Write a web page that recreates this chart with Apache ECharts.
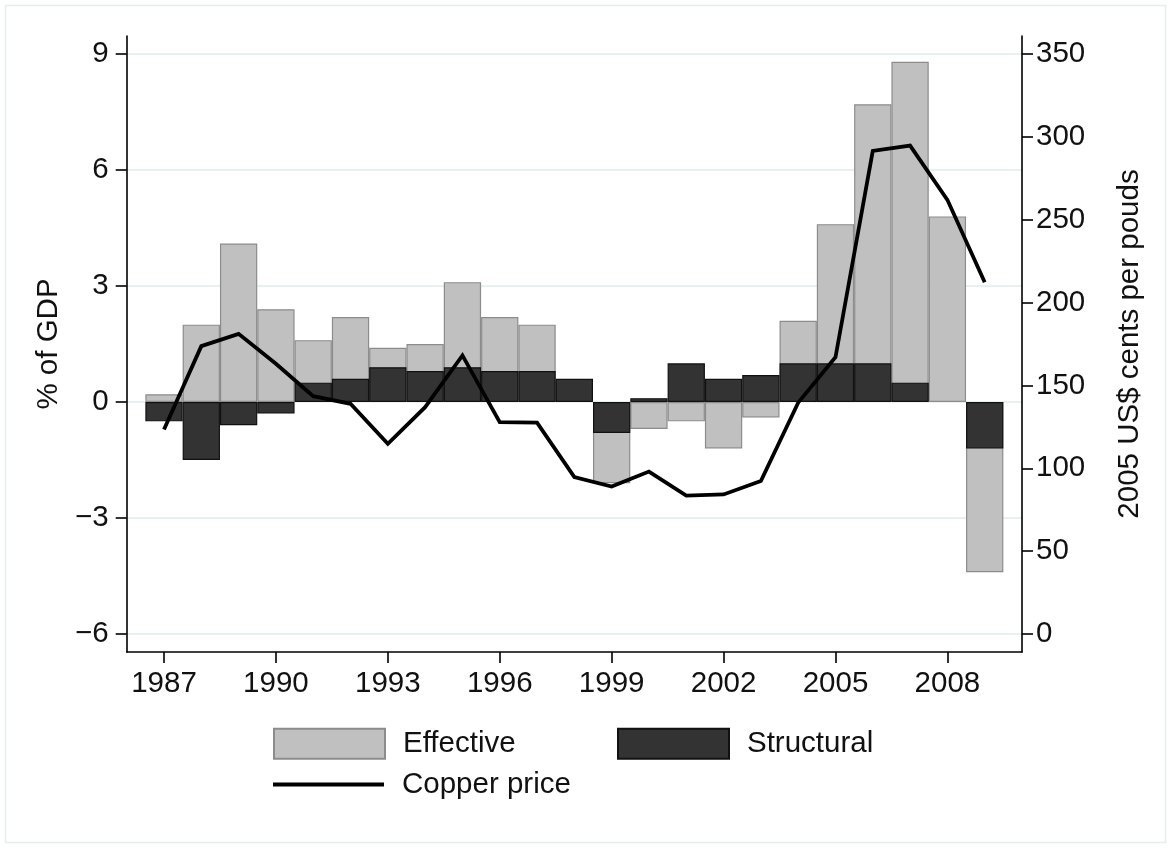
<!DOCTYPE html>
<html>
<head>
<meta charset="utf-8">
<script src="https://cdn.jsdelivr.net/npm/echarts@6/dist/echarts.min.js"></script>
<style>
html,body{margin:0;padding:0;background:#fff;}
#chart{width:1170px;height:848px;}
</style>
</head>
<body>
<div id="chart"></div>
<script>
const years = [1987,1988,1989,1990,1991,1992,1993,1994,1995,1996,1997,1998,1999,2000,2001,2002,2003,2004,2005,2006,2007,2008,2009];
const effective = [0.2,2.0,4.1,2.4,1.6,2.2,1.4,1.5,3.1,2.2,2.0,0.5,-2.1,-0.7,-0.5,-1.2,-0.4,2.1,4.6,7.7,8.8,4.8,-4.4];
const structural = [-0.5,-1.5,-0.6,-0.3,0.5,0.6,0.9,0.8,0.9,0.8,0.8,0.6,-0.8,0.1,1.0,0.6,0.7,1.0,1.0,1.0,0.5,null,-1.2];
const copper = [123.4,173.7,181.1,163.1,143.5,138.9,114.8,136.9,168.1,127.8,127.5,94.7,89.0,98.0,83.5,84.2,92.3,139.6,167.0,291.5,294.7,262.0,212.3];
const xTicks = [1987,1990,1993,1996,1999,2002,2005,2008];
const leftTicks = [-6,-3,0,3,6,9];
const rightTicks = [0,50,100,150,200,250,300,350];

const pairs = (vals) => years.map((y, i) => [y, vals[i]]);
const FONT = 'Liberation Sans, Arial, sans-serif';
const FS = 29.5;
const txt = '#111';

const chart = echarts.init(document.getElementById('chart'), null, {renderer: 'canvas'});
const option = {
  backgroundColor: '#fff',
  animation: false,
  textStyle: {fontFamily: FONT},
  graphic: [{
    type: 'rect', shape: {x: 5.5, y: 5.5, width: 1160, height: 837},
    style: {fill: 'none', stroke: '#e6eef0', lineWidth: 1.5}, z: -10, silent: true
  }],
  grid: {left: 126.7, right: 148, top: 36, bottom: 196, containLabel: false},
  xAxis: {
    type: 'value', min: 1986, max: 2010,
    axisLine: {show: true, onZero: false, lineStyle: {color: '#000', width: 1.6}},
    axisTick: {show: true, length: 11, customValues: xTicks, lineStyle: {color: '#000', width: 1.6}},
    axisLabel: {customValues: xTicks, fontSize: FS, color: txt, margin: 17, fontFamily: FONT,
      formatter: v => String(v)},
    splitLine: {show: false}
  },
  yAxis: [{
    type: 'value', min: -6.465, max: 9.465, position: 'left',
    name: '% of GDP', nameLocation: 'middle', nameGap: 58, nameRotate: 90,
    nameTextStyle: {fontSize: FS, color: txt, fontFamily: FONT},
    axisLine: {show: true, onZero: false, lineStyle: {color: '#000', width: 1.6}},
    axisTick: {show: true, length: 11, customValues: leftTicks, lineStyle: {color: '#000', width: 1.6}},
    axisLabel: {customValues: leftTicks, fontSize: FS, color: txt, margin: 18, fontFamily: FONT,
      formatter: v => (v < 0 ? '\u2212' + Math.abs(v) : String(v))},
    splitLine: {show: true, lineStyle: {color: '#e8f0f2', width: 1.8}}
  }, {
    type: 'value', min: -10.85, max: 360.85, position: 'right',
    name: '2005 US$ cents per pouds', nameLocation: 'middle', nameGap: 93, nameRotate: 90,
    nameTextStyle: {fontSize: FS, color: txt, fontFamily: FONT},
    axisLine: {show: true, onZero: false, lineStyle: {color: '#000', width: 1.6}},
    axisTick: {show: true, length: 11, customValues: rightTicks, lineStyle: {color: '#000', width: 1.6}},
    axisLabel: {customValues: rightTicks, fontSize: FS, color: txt, margin: 14, fontFamily: FONT,
      formatter: v => String(v)},
    splitLine: {show: false}
  }],
  legend: [{
    data: [{name: 'Effective', icon: 'rect'}], left: 273, top: 727.7, padding: 0, itemWidth: 111, itemHeight: 30,
    textStyle: {fontSize: FS, color: txt, fontFamily: FONT, padding: [0, 0, 0, 13]}
  }, {
    data: [{name: 'Structural', icon: 'rect'}], left: 617, top: 727.7, padding: 0, itemWidth: 111, itemHeight: 30,
    textStyle: {fontSize: FS, color: txt, fontFamily: FONT, padding: [0, 0, 0, 13]}
  }, {
    data: [{name: 'Copper price', icon: 'rect'}], left: 273, top: 769.5, padding: 0, itemWidth: 111, itemHeight: 3.8,
    itemStyle: {color: '#000', borderWidth: 0},
    textStyle: {fontSize: FS, color: txt, fontFamily: FONT, padding: [0, 0, 0, 13]}
  }],
  series: [{
    name: 'Effective', type: 'bar', xAxisIndex: 0, yAxisIndex: 0,
    data: pairs(effective), barWidth: 37.3, barGap: '-100%',
    itemStyle: {color: '#c0c0c0', borderColor: '#8c8c8c', borderWidth: 1.2},
    z: 2
  }, {
    name: 'Structural', type: 'bar', xAxisIndex: 0, yAxisIndex: 0,
    data: pairs(structural), barWidth: 37.3, barGap: '-100%',
    itemStyle: {color: '#333333', borderColor: '#111111', borderWidth: 1.2},
    z: 3
  }, {
    name: 'Copper price', type: 'line', xAxisIndex: 0, yAxisIndex: 1,
    data: pairs(copper), symbol: 'none', showSymbol: false,
    lineStyle: {color: '#000', width: 3.8, join: 'miter'},
    itemStyle: {color: '#000'},
    z: 4
  }]
};
chart.setOption(option);
</script>
</body>
</html>
